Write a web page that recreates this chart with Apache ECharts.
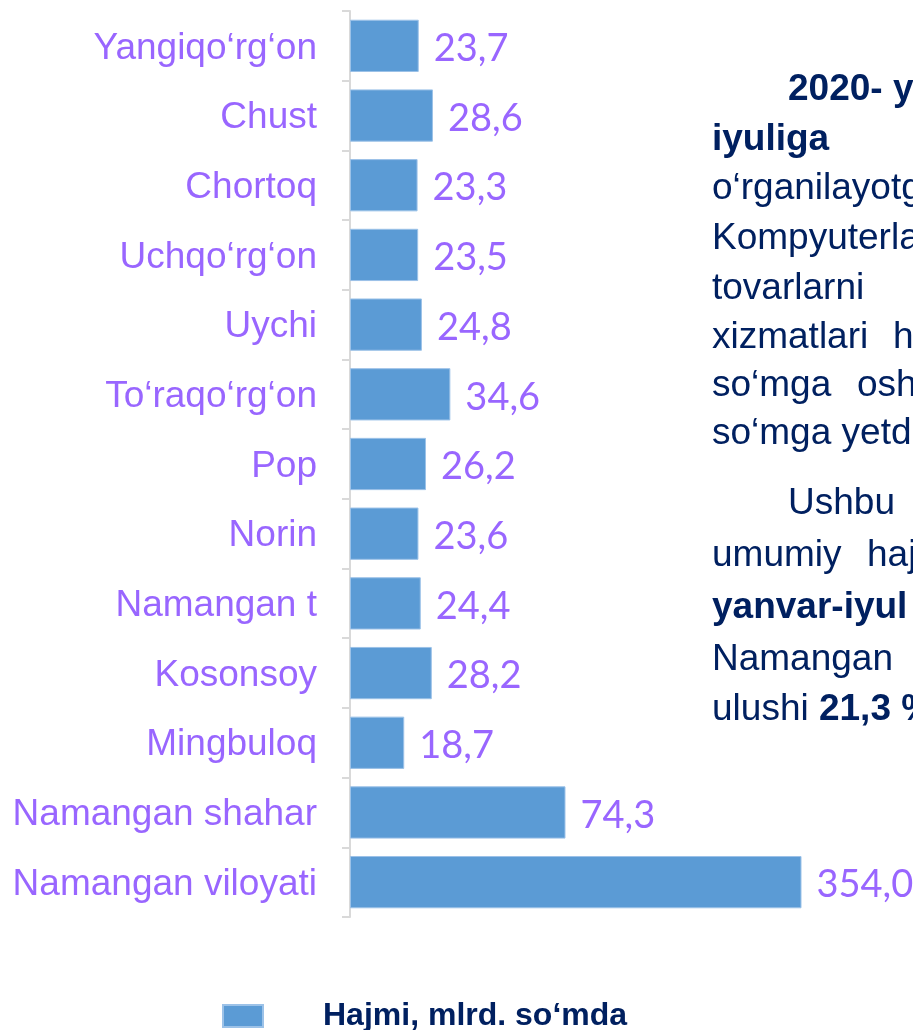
<!DOCTYPE html>
<html>
<head>
<meta charset="utf-8">
<script src="https://cdn.jsdelivr.net/npm/echarts@6/dist/echarts.min.js"></script>
<style>
  html, body { margin: 0; padding: 0; background: #fff; }
  #chart { width: 913px; height: 1030px; }
</style>
</head>
<body>
<div id="chart"></div>
<script>
  // tumanlar (yuqoridan pastga)
  const districts = [
    'Yangiqo‘rg‘on', 'Chust', 'Chortoq', 'Uchqo‘rg‘on', 'Uychi', 'To‘raqo‘rg‘on',
    'Pop', 'Norin', 'Namangan t', 'Kosonsoy', 'Mingbuloq', 'Namangan shahar', 'Namangan viloyati'
  ];
  // hajmi, mlrd. so'mda
  const volumes = [23.7, 28.6, 23.3, 23.5, 24.8, 34.6, 26.2, 23.6, 24.4, 28.2, 18.7, 74.3, 354.0];
  // o'q chegarasi: viloyati ustuni kesilgan holda ko'rsatiladi
  const axisMax = 155.5;

  const navy = '#002060';
  const purple = '#9966FF';
  const textFont = '"Liberation Sans", Arial, sans-serif';

  // o'ng tomondagi matn (har bir qator so'zlari va x o'rni)
  const textLines = [
    { y: 90,  bold: true, words: [[788, '2020- yil yanvar-']] },
    { y: 140, bold: true, words: [[712, 'iyuliga']] },
    { y: 189, words: [[712, 'o‘rganilayotgan']] },
    { y: 239, words: [[712, 'Kompyuterlar']] },
    { y: 289, words: [[712, 'tovarlarni']] },
    { y: 338, words: [[712, 'xizmatlari'], [893, 'hajmi']] },
    { y: 386, words: [[712, 'so‘mga'], [857, 'oshib']] },
    { y: 434, words: [[712, 'so‘mga yetdi']] },
    { y: 504, words: [[788, 'Ushbu']] },
    { y: 556, words: [[712, 'umumiy'], [867, 'hajmi']] },
    { y: 608, bold: true, words: [[712, 'yanvar-iyul']] },
    { y: 660, words: [[712, 'Namangan']] }
  ];

  let myChart = echarts.init(document.getElementById('chart'));

  let graphics = [];
  textLines.forEach(function (l) {
    l.words.forEach(function (w) {
      graphics.push({
        type: 'text',
        x: w[0],
        y: l.y,
        style: {
          text: w[1],
          fill: navy,
          verticalAlign: 'middle',
          font: (l.bold ? 'bold ' : '') + '37px ' + textFont
        }
      });
    });
  });
  graphics.push({
    type: 'text',
    x: 712,
    y: 710,
    style: {
      text: '{n|ulushi }{b|21,3 %}',
      verticalAlign: 'middle',
      rich: {
        n: { fill: navy, font: '37px ' + textFont },
        b: { fill: navy, font: 'bold 37px ' + textFont }
      }
    }
  });

  let option = {
    animation: false,
    grid: {
      left: 350,
      top: 11,
      right: 112,
      bottom: 113,
      containLabel: false
    },
    legend: {
      data: ['Hajmi, mlrd. so‘mda'],
      left: 222,
      top: 1000,
      padding: 0,
      itemWidth: 40,
      itemHeight: 22,
      icon: 'rect',
      textStyle: {
        color: navy,
        fontWeight: 'bold',
        fontSize: 32,
        fontFamily: textFont,
        padding: [0, 0, 0, 55]
      }
    },
    xAxis: {
      type: 'value',
      min: 0,
      max: axisMax,
      show: false
    },
    yAxis: {
      type: 'category',
      inverse: true,
      data: districts,
      axisLine: { show: true, lineStyle: { color: '#d9d9d9', width: 2 } },
      axisTick: { show: true, length: 8, lineStyle: { color: '#d9d9d9', width: 2 } },
      axisLabel: {
        margin: 33,
        formatter: function (v) {
          return '{a|' + v + '}';
        },
        rich: {
          a: {
            color: purple,
            fontSize: 37,
            fontFamily: textFont,
            padding: [5, 0, 0, 0]
          }
        }
      }
    },
    series: [{
      name: 'Hajmi, mlrd. so‘mda',
      type: 'bar',
      data: volumes,
      barCategoryGap: '25%',
      clip: true,
      itemStyle: { color: '#5B9BD5', borderColor: '#9cc2e8', borderWidth: 1 },
      label: {
        show: true,
        position: 'right',
        distance: 15,
        offset: [0, 3],
        color: purple,
        fontSize: 38,
        fontFamily: 'Lato, "Open Sans", sans-serif',
        formatter: function (p) {
          return p.value.toFixed(1).replace('.', ',');
        }
      }
    }],
    graphic: graphics
  };
  myChart.setOption(option);
</script>
</body>
</html>
